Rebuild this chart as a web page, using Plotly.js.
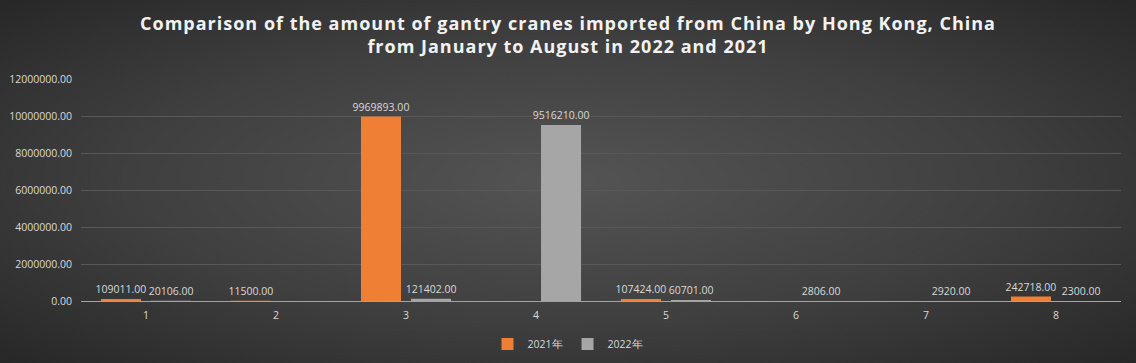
<!DOCTYPE html>
<html>
<head>
<meta charset="utf-8">
<script src="https://cdn.plot.ly/plotly-3.0.1.min.js"></script>
<style>
html,body{margin:0;padding:0;width:1136px;height:363px;overflow:hidden;
background: radial-gradient(ellipse at 50% 50%, #545454 0%, #3f3f3f 55%, #272727 100%);}
#chart{width:1136px;height:363px;}
.gtitle{letter-spacing:1px;}
</style>
</head>
<body>
<div id="chart"></div>
<script>
const months = ['1','2','3','4','5','6','7','8'];
const values2021 = [109011, 11500, 9969893, null, 107424, null, null, 242718];
const values2022 = [20106, null, 121402, 9516210, 60701, 2806, 2920, 2300];
const seriesNames = ['2021年', '2022年'];
const yTicks = [0, 2000000, 4000000, 6000000, 8000000, 10000000, 12000000];

const labelFont = {family: 'Open Sans, sans-serif', size: 10.5, color: '#d9d9d9'};

const traces = [
  {type:'bar', name: seriesNames[0], x: months, y: values2021,
   marker:{color:'#EE7F34'}, texttemplate:'%{y:.2f}', textposition:'outside',
   constraintext:'none', textfont: labelFont, cliponaxis:false, hoverinfo:'skip'},
  {type:'bar', name: seriesNames[1], x: months, y: values2022,
   marker:{color:'#A6A6A6'}, texttemplate:'%{y:.2f}', textposition:'outside',
   constraintext:'none', textfont: labelFont, cliponaxis:false, hoverinfo:'skip'}
];

const layout = {
  width:1136, height:363,
  paper_bgcolor:'rgba(0,0,0,0)', plot_bgcolor:'rgba(0,0,0,0)',
  margin:{l:81, r:15, t:79, b:62},
  title:{text:'Comparison of the amount of gantry cranes imported from China by Hong Kong, China<br>from January to August in 2022 and 2021',
    font:{family:'Open Sans, sans-serif', size:18, color:'#f2f2f2', weight:'bold'},
    x:0.5, xanchor:'center', yref:'container', y:0.918, yanchor:'middle'},
  barmode:'group', bargap:0.23, bargroupgap:0.2,
  xaxis:{type:'category', tickfont:{family:'Open Sans, sans-serif', size:10.5, color:'#d9d9d9'},
    showgrid:false, showline:true, linecolor:'#a3a3a3', linewidth:1, ticks:'', zeroline:false,
    ticklabelstandoff:4},
  yaxis:{range:[0,12000000], tickvals:yTicks, tickformat:'.2f',
    tickfont:{family:'Open Sans, sans-serif', size:10.5, color:'#d9d9d9'},
    gridcolor:'#585858', gridwidth:1, zeroline:false, showline:false, ticks:'', ticklabelstandoff:8},
  showlegend:true,
  legend:{orientation:'h', x:0.5, xanchor:'center', xref:'container', yref:'container', y:0.052, yanchor:'middle',
    font:{family:'Open Sans, sans-serif', size:10.5, color:'#d9d9d9'}, itemwidth:30, traceorder:'normal'},
  font:{family:'Open Sans, sans-serif'}
};

Plotly.newPlot('chart', traces, layout, {displayModeBar:false, staticPlot:true});
</script>
</body>
</html>
